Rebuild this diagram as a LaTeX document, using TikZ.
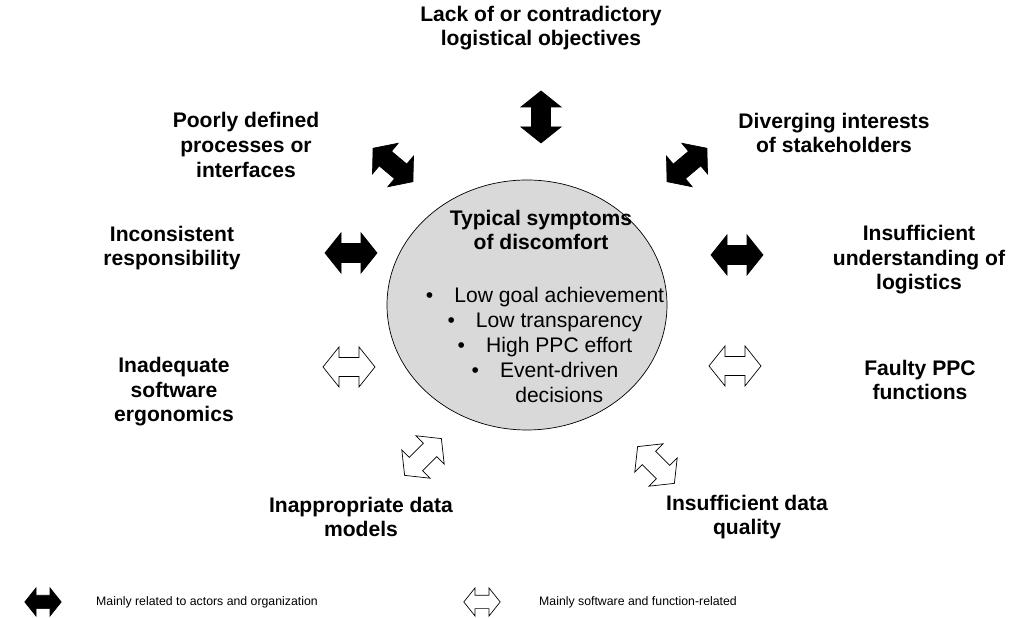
\documentclass[tikz,border=0pt]{standalone}
\usepackage{fontspec}
\setmainfont{Liberation Sans}
\usetikzlibrary{shapes.geometric, positioning}

\begin{document}
\begin{tikzpicture}[
    cause/.style={font=\fontsize{12}{14}\selectfont\bfseries, align=center},
    actor/.style={draw=black, fill=black},
    software/.style={draw=black, fill=white},
    legend/.style={font=\fontsize{7}{8}\selectfont, anchor=west},
    dblarr/.pic={
        \path[pic actions] (-0.52,0) -- (-0.2,0.4) -- (-0.2,0.19) -- (0.2,0.19) -- (0.2,0.4)
            -- (0.52,0) -- (0.2,-0.4) -- (0.2,-0.19) -- (-0.2,-0.19) -- (-0.2,-0.4) -- cycle;
    }
]

% Canvas
\useasboundingbox (0,0) rectangle (20.48,12.36);

% Central symptoms
\node[ellipse, draw, fill=black!15, minimum width=5.6cm, minimum height=5cm] (core) at (10.54,6.26) {};
\node[cause] (coretitle) at (10.82,7.76) {Typical symptoms\\of discomfort};
\node[font=\fontsize{12}{14.2}\selectfont, align=center] (corelist) at (10.9,5.46)
    {\textbullet\quad Low goal achievement\\
     \textbullet\quad Low transparency\\
     \textbullet\quad High PPC effort\\
     \textbullet\quad Event-driven\\
     \phantom{\textbullet\quad}decisions};

% Causes
\node[cause] (objectives) at (10.82,11.8) {Lack of or contradictory\\logistical objectives};
\node[cause] (processes) at (4.92,9.46) {Poorly defined\\processes or\\interfaces};
\node[cause] (interests) at (16.68,9.7) {Diverging interests\\of stakeholders};
\node[cause] (responsibility) at (3.44,7.4) {Inconsistent\\responsibility};
\node[cause] (understanding) at (18.38,7.16) {Insufficient\\understanding of\\logistics};
\node[cause] (ergonomics) at (3.48,4.52) {Inadequate\\software\\ergonomics};
\node[cause] (functions) at (18.4,4.76) {Faulty PPC\\functions};
\node[cause] (datamodels) at (7.22,2.02) {Inappropriate data\\models};
\node[cause] (dataquality) at (14.94,2.02) {Insufficient data\\quality};

% Arrows
\pic[actor, rotate=90] at (10.82,10.02) {dblarr};
\pic[actor, rotate=-40] at (7.86,9.06) {dblarr};
\pic[actor, rotate=40] at (13.74,9.06) {dblarr};
\pic[actor] at (7.02,7.3) {dblarr};
\pic[actor] at (14.74,7.26) {dblarr};
\pic[software] at (6.98,5.02) {dblarr};
\pic[software] at (14.7,5.04) {dblarr};
\pic[software, rotate=45] at (8.46,3.22) {dblarr};
\pic[software, rotate=-45] at (13.12,3.06) {dblarr};

% Legend
\pic[actor, scale=0.7] at (0.86,0.32) {dblarr};
\node[legend] (legactortext) at (1.8,0.32) {Mainly related to actors and organization};
\pic[software, scale=0.7] at (9.64,0.32) {dblarr};
\node[legend] (legsofttext) at (10.66,0.32) {Mainly software and function-related};

\end{tikzpicture}
\end{document}
